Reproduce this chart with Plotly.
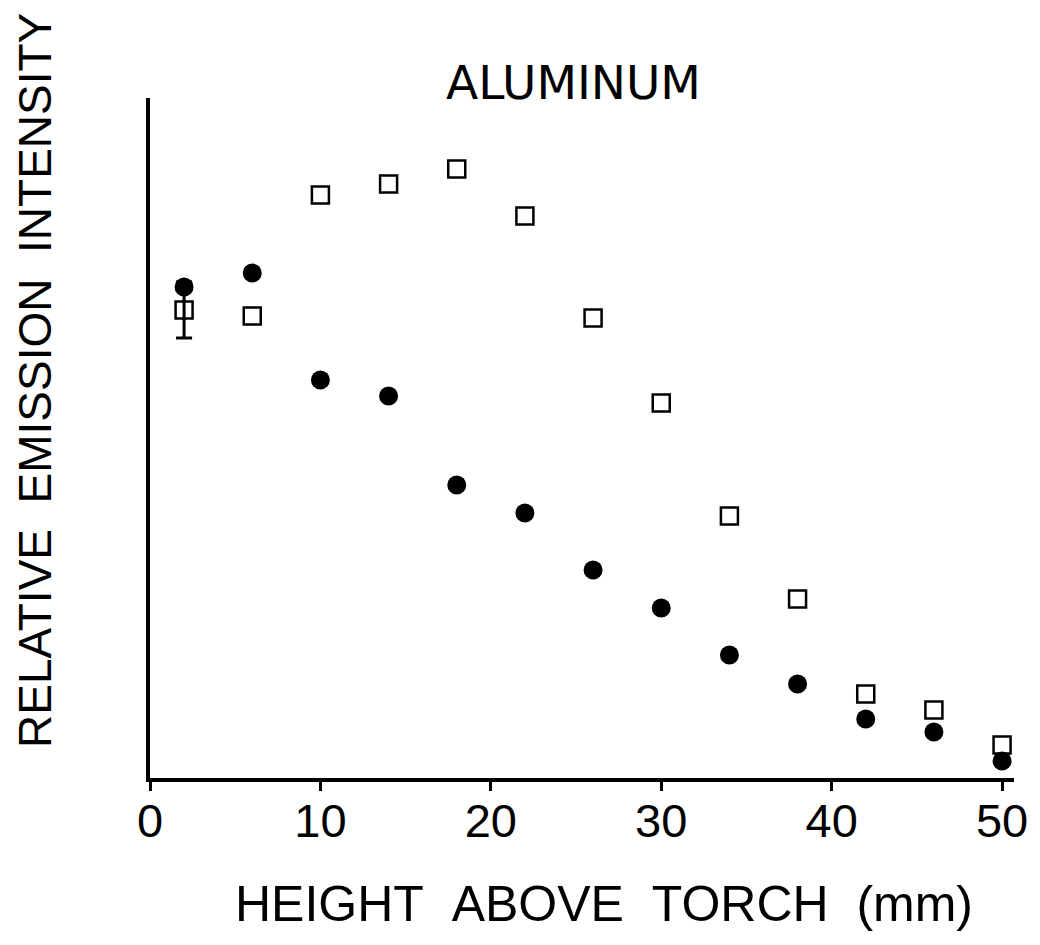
import plotly.graph_objects as go

height_mm = [2, 6, 10, 14, 18, 22, 26, 30, 34, 38, 42, 46, 50]
open_squares = [4.68, 4.62, 5.83, 5.94, 6.09, 5.62, 4.60, 3.75, 2.62, 1.79, 0.84, 0.68, 0.33]
filled_circles = [4.91, 5.05, 3.98, 3.82, 2.93, 2.65, 2.08, 1.70, 1.23, 0.94, 0.59, 0.46, 0.17]
square_err_first = 0.28
tick_vals = [0, 10, 20, 30, 40, 50]
tick_text = ["0", "10", "20", "30", "40", "50"]

font_family = "Liberation Sans, Arial, sans-serif"

fig = go.Figure()
# error bar on the first open-square point
fig.add_trace(go.Scatter(
    x=[height_mm[0]], y=[open_squares[0]], mode="markers",
    marker=dict(size=1, color="rgba(0,0,0,0)"),
    error_y=dict(type="data", array=[square_err_first], visible=True, color="black", thickness=3, width=8),
    showlegend=False, hoverinfo="skip",
))
fig.add_trace(go.Scatter(
    x=height_mm, y=open_squares, mode="markers",
    marker=dict(symbol="square-open", size=17, color="black", line=dict(width=2.5)),
    showlegend=False,
))
fig.add_trace(go.Scatter(
    x=height_mm, y=filled_circles, mode="markers",
    marker=dict(symbol="circle", size=19, color="black"),
    showlegend=False,
))

fig.update_layout(
    width=1040, height=945,
    margin=dict(l=150, r=23, t=98, b=167),
    paper_bgcolor="white", plot_bgcolor="white",
    font=dict(family=font_family, color="black"),
    xaxis=dict(
        range=[0, 50.7], showgrid=False, zeroline=False,
        showline=True, linecolor="black", linewidth=4,
        tickmode="array", tickvals=tick_vals, ticktext=tick_text,
        ticks="outside", ticklen=9, tickwidth=3, tickcolor="black",
        ticklabelstandoff=-10,
        tickfont=dict(size=47, family=font_family, color="black"),
    ),
    yaxis=dict(
        range=[0, 6.8], showgrid=False, zeroline=False,
        showline=True, linecolor="black", linewidth=4,
        showticklabels=False, ticks="",
    ),
    annotations=[
        dict(text="ALUMINUM", xref="paper", yref="paper", x=0.49, y=1.0, yshift=-14,
             xanchor="center", yanchor="bottom", showarrow=False,
             font=dict(size=47, family="DejaVu Sans, sans-serif")),
        dict(text="HEIGHT\u00a0\u00a0ABOVE\u00a0\u00a0TORCH\u00a0\u00a0(mm)", xref="paper", yref="paper",
             x=0.525, y=0, yshift=-96, xanchor="center", yanchor="top", showarrow=False,
             font=dict(size=50, family=font_family)),
        dict(text="RELATIVE\u00a0\u00a0EMISSION\u00a0\u00a0INTENSITY", xref="paper", yref="paper",
             x=0, xshift=-115, y=0.5, yshift=57, xanchor="center", yanchor="middle",
             textangle=-90, showarrow=False,
             font=dict(size=46, family=font_family)),
    ],
)

fig.write_html("out.html")
